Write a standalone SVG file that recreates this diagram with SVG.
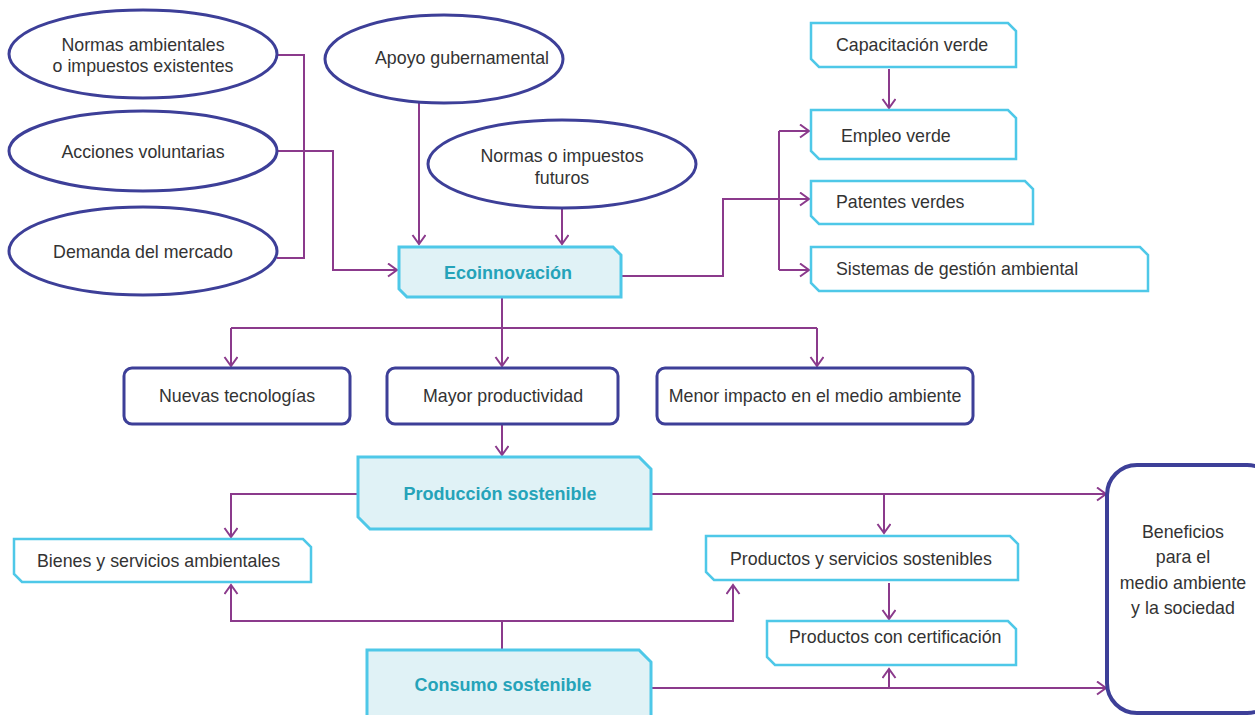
<svg xmlns="http://www.w3.org/2000/svg" width="1255" height="715" viewBox="0 0 1255 715">
  <style>
    .oval { fill: #ffffff; stroke: #3d3f98; stroke-width: 3; }
    .rbox { fill: #ffffff; stroke: #3d3f98; stroke-width: 3; }
    .tag { fill: #ffffff; stroke: #4ec8e8; stroke-width: 2.5; }
    .hub { fill: #e0f2f6; stroke: #4ec8e8; stroke-width: 3; }
    .lbl { font-family: "Liberation Sans", Arial, sans-serif; font-size: 17.8px; fill: #333333; }
    .mid { text-anchor: middle; }
    .hubtxt { font-family: "Liberation Sans", Arial, sans-serif; font-size: 18px; font-weight: bold; fill: #25a3b9; text-anchor: middle; }
    .wire { fill: none; stroke: #8b3a8c; stroke-width: 2; }
    .wire.arrow { marker-end: url(#head); }
  </style>
  <defs>
    <marker id="head" markerUnits="userSpaceOnUse" markerWidth="14" markerHeight="16" refX="10" refY="7" orient="auto">
      <path d="M1,0.5 L10,7 L1,13.5" fill="none" stroke="#8b3a8c" stroke-width="2"/>
    </marker>
  </defs>

  <rect width="1255" height="715" fill="#ffffff"/>

  <!-- connectors -->
  <g id="connectors">
    <!-- drivers into Ecoinnovación -->
    <path class="wire" d="M277,55 H304 V258 H277"/>
    <path class="wire arrow" d="M277,151 H333 V270 H397"/>
    <path class="wire arrow" d="M419,103 V244"/>
    <path class="wire arrow" d="M562,208 V244"/>
    <!-- Ecoinnovación to green outputs -->
    <path class="wire arrow" d="M621,276 H723 V199 H809"/>
    <path class="wire arrow" d="M779,131 H809"/>
    <path class="wire" d="M779,131 V270"/>
    <path class="wire arrow" d="M779,270 H809"/>
    <path class="wire arrow" d="M889,69 V108"/>
    <!-- Ecoinnovación to effects -->
    <path class="wire arrow" d="M502,297 V366"/>
    <path class="wire" d="M231,328 H817"/>
    <path class="wire arrow" d="M231,328 V366"/>
    <path class="wire arrow" d="M817,328 V366"/>
    <path class="wire arrow" d="M502,424 V455"/>
    <!-- Producción sostenible -->
    <path class="wire arrow" d="M358,494 H231 V537" stroke-width="2.5"/>
    <path class="wire arrow" d="M651,494 H1106"/>
    <path class="wire arrow" d="M884,494 V533"/>
    <path class="wire arrow" d="M889,583 V619"/>
    <!-- Consumo sostenible -->
    <path class="wire" d="M502,649 V621"/>
    <path class="wire arrow" d="M502,621 H231 V585"/>
    <path class="wire arrow" d="M502,621 H733 V585"/>
    <path class="wire arrow" d="M651,688 H1106"/>
    <path class="wire arrow" d="M889,688 V669"/>
  </g>

  <!-- drivers -->
  <g id="normas-existentes">
    <ellipse class="oval" cx="143" cy="54" rx="134" ry="44"/>
    <text class="lbl mid" x="143" y="51">Normas ambientales</text>
    <text class="lbl mid" x="143" y="72">o impuestos existentes</text>
  </g>
  <g id="acciones-voluntarias">
    <ellipse class="oval" cx="143" cy="151" rx="134" ry="40"/>
    <text class="lbl mid" x="143" y="158">Acciones voluntarias</text>
  </g>
  <g id="demanda-mercado">
    <ellipse class="oval" cx="143" cy="251" rx="134" ry="44"/>
    <text class="lbl mid" x="143" y="258">Demanda del mercado</text>
  </g>
  <g id="apoyo-gubernamental">
    <ellipse class="oval" cx="444" cy="59" rx="119" ry="44"/>
    <text class="lbl mid" x="462" y="64">Apoyo gubernamental</text>
  </g>
  <g id="normas-futuros">
    <ellipse class="oval" cx="562" cy="164" rx="134" ry="44"/>
    <text class="lbl mid" x="562" y="162">Normas o impuestos</text>
    <text class="lbl mid" x="562" y="184">futuros</text>
  </g>

  <!-- central hub -->
  <g id="ecoinnovacion">
    <path class="hub" d="M399,247 H613 L621,255 V297 H407 L399,289 Z"/>
    <text class="hubtxt" x="508" y="279">Ecoinnovación</text>
  </g>

  <!-- green outputs -->
  <g id="capacitacion-verde">
    <path class="tag" d="M811,23 H1008 L1016,31 V67 H819 L811,59 Z"/>
    <text class="lbl" x="836" y="51">Capacitación verde</text>
  </g>
  <g id="empleo-verde">
    <path class="tag" d="M811,110 H1008 L1016,118 V159 H819 L811,151 Z"/>
    <text class="lbl" x="841" y="142">Empleo verde</text>
  </g>
  <g id="patentes-verdes">
    <path class="tag" d="M811,181 H1025 L1033,189 V224 H819 L811,216 Z"/>
    <text class="lbl" x="836" y="208">Patentes verdes</text>
  </g>
  <g id="sistemas-gestion">
    <path class="tag" d="M811,247 H1140 L1148,255 V291 H819 L811,283 Z"/>
    <text class="lbl" x="836" y="275">Sistemas de gestión ambiental</text>
  </g>

  <!-- effects -->
  <g id="nuevas-tecnologias">
    <rect class="rbox" x="124" y="368" width="226" height="56" rx="8"/>
    <text class="lbl mid" x="237" y="402">Nuevas tecnologías</text>
  </g>
  <g id="mayor-productividad">
    <rect class="rbox" x="387" y="368" width="231" height="56" rx="8"/>
    <text class="lbl mid" x="503" y="402">Mayor productividad</text>
  </g>
  <g id="menor-impacto">
    <rect class="rbox" x="657" y="368" width="316" height="56" rx="8"/>
    <text class="lbl mid" x="815" y="402">Menor impacto en el medio ambiente</text>
  </g>

  <!-- production -->
  <g id="produccion-sostenible">
    <path class="hub" d="M358,457 H639 L651,469 V529 H370 L358,517 Z"/>
    <text class="hubtxt" x="500" y="500" font-size="19">Producción sostenible</text>
  </g>
  <g id="bienes-servicios">
    <path class="tag" d="M14,539 H303 L311,547 V582 H22 L14,574 Z"/>
    <text class="lbl" x="37" y="567">Bienes y servicios ambientales</text>
  </g>
  <g id="productos-servicios">
    <path class="tag" d="M706,536 H1010 L1018,544 V580 H714 L706,572 Z"/>
    <text class="lbl" x="730" y="565">Productos y servicios sostenibles</text>
  </g>
  <g id="productos-certificacion">
    <path class="tag" d="M767,621 H1008 L1016,629 V665 H775 L767,657 Z"/>
    <text class="lbl" x="789" y="643">Productos con certificación</text>
  </g>

  <!-- consumption -->
  <g id="consumo-sostenible">
    <path class="hub" d="M367,650 H639 L651,662 V725 H367 Z"/>
    <text class="hubtxt" x="503" y="691" font-size="19">Consumo sostenible</text>
  </g>

  <!-- outcome -->
  <g id="beneficios">
    <rect x="1107" y="465" width="170" height="248" rx="30" fill="#ffffff" stroke="#3d3f98" stroke-width="4"/>
    <text class="lbl mid" x="1183" y="538">Beneficios</text>
    <text class="lbl mid" x="1183" y="563">para el</text>
    <text class="lbl mid" x="1183" y="589">medio ambiente</text>
    <text class="lbl mid" x="1183" y="614">y la sociedad</text>
  </g>
</svg>
